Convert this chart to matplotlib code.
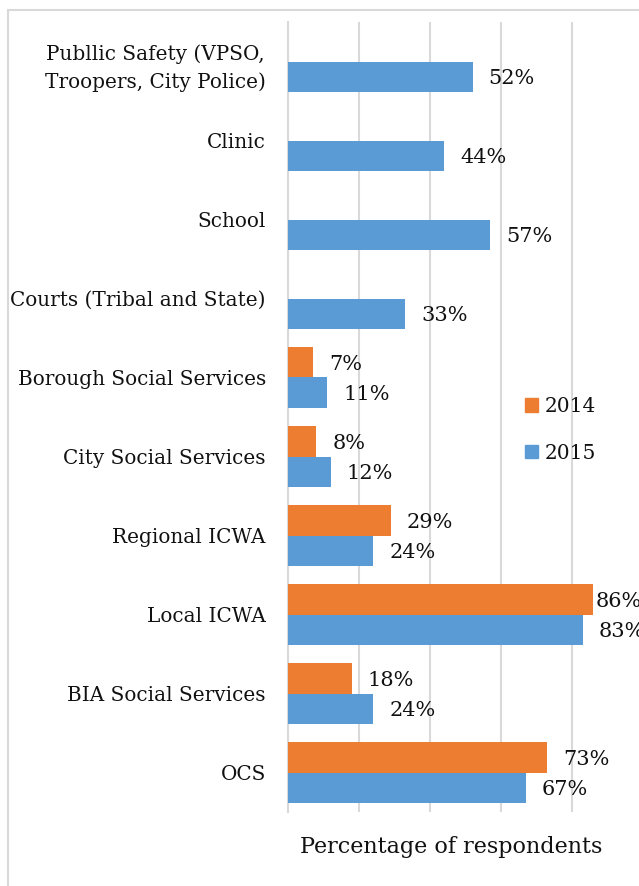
import numpy as np
import matplotlib
matplotlib.use("Agg")
import matplotlib.pyplot as plt
from matplotlib.patches import Rectangle, Patch

plt.rcParams['font.family'] = ['DejaVu Serif']

categories = [
    "Publlic Safety (VPSO,\nTroopers, City Police)",
    "Clinic",
    "School",
    "Courts (Tribal and State)",
    "Borough Social Services",
    "City Social Services",
    "Regional ICWA",
    "Local ICWA",
    "BIA Social Services",
    "OCS",
]
vals_2014 = [np.nan, np.nan, np.nan, np.nan, 7, 8, 29, 86, 18, 73]
vals_2015 = [52, 44, 57, 33, 11, 12, 24, 83, 24, 67]

ORANGE = "#ED7D31"
BLUE = "#5B9BD5"
GRID = "#D9D9D9"
TXT = "#111111"

W, H = 639, 886
fig = plt.figure(figsize=(W / 100, H / 100), dpi=100)

# plot area (right edge runs past the image, like the original crop)
x0, x1, y0, y1 = 288, 643, 22, 812
ax = fig.add_axes([x0 / W, 1 - y1 / H, (x1 - x0) / W, (y1 - y0) / H])

pos = np.arange(len(categories))
bh = 0.392
ax.barh(pos - bh / 2, vals_2014, height=bh, color=ORANGE, zorder=3)
ax.barh(pos + bh / 2, vals_2015, height=bh, color=BLUE, zorder=3)

ax.set_xlim(0, 100)
ax.set_ylim(len(categories) - 0.5, -0.5)

ax.set_xticks([0, 20, 40, 60, 80, 100])
ax.set_xticklabels([])
ax.tick_params(axis='x', length=0)
ax.grid(axis='x', color=GRID, linewidth=1.5, zorder=0)

ax.set_yticks(pos)
ax.set_yticklabels(categories, fontsize=14.4, color=TXT)
ax.tick_params(axis='y', length=0, pad=16)
for lbl in ax.get_yticklabels():
    lbl.set_multialignment('center')
    lbl.set_linespacing(1.55)

for s in ['top', 'right', 'bottom']:
    ax.spines[s].set_visible(False)
ax.spines['left'].set_color(GRID)
ax.spines['left'].set_linewidth(1.5)

# data labels
for i in pos:
    for v, off in ((vals_2014[i], -bh / 2), (vals_2015[i], bh / 2)):
        if np.isnan(v):
            continue
        pad = 2 if v > 84 else 16
        ax.annotate(f"{v:.0f}%", xy=(v, i + off), xytext=(pad, -2),
                    textcoords='offset pixels', va='center', ha='left',
                    fontsize=15, color=TXT, annotation_clip=False)

handles = [Patch(color=ORANGE), Patch(color=BLUE)]
fig.legend(handles, ["2014", "2015"], loc='upper left',
           bbox_to_anchor=(525 / W, 1 - 397 / H), frameon=False,
           fontsize=14.5, handlelength=0.65, handleheight=0.65,
           handletextpad=0.35, labelspacing=1.38, borderpad=0,
           borderaxespad=0, labelcolor=TXT)

fig.text(451.5 / W, 1 - 853 / H, "Percentage of respondents",
         ha='center', va='baseline', fontsize=16, color=TXT)

# outer chart border
fig.patches.append(Rectangle((8 / W, -0.1), 1.1, 1 - 10 / H + 0.1,
                             transform=fig.transFigure, fill=False,
                             edgecolor=GRID, linewidth=1.5))

fig.savefig("out.png", dpi=100)
